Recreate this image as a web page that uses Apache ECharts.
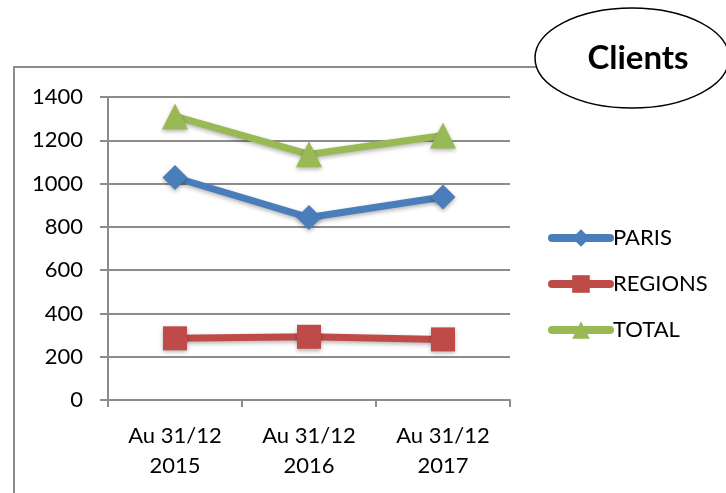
<!DOCTYPE html>
<html><head><meta charset="utf-8">
<script src="https://cdn.jsdelivr.net/npm/echarts@6/dist/echarts.min.js"></script>
<style>html,body{margin:0;padding:0;background:#fff}#c{width:726px;height:493px}</style>
</head><body><div id="c"></div>
<script>
var categories = ['Au 31/12\n2015', 'Au 31/12\n2016', 'Au 31/12\n2017'];
var paris = [1028, 843, 938];
var regions = [285, 292, 280];
var total = [1310, 1135, 1222];
var yTicks = {min: 0, max: 1400, interval: 200};

var FONT = 'Lato';
var chart = echarts.init(document.getElementById('c'));
function ser(name, data, color, symbol, size) {
  return {
    name: name, type: 'line', data: data, symbol: symbol, symbolSize: size,
    lineStyle: {color: color, width: 7, shadowColor: 'rgba(0,0,0,0.3)', shadowBlur: 4, shadowOffsetY: 2},
    itemStyle: {color: color, shadowColor: 'rgba(0,0,0,0.3)', shadowBlur: 4, shadowOffsetY: 2},
    emphasis: {disabled: true}, z: 3
  };
}
chart.setOption({
  animation: false,
  textStyle: {fontFamily: FONT},
  graphic: [
    {type: 'polyline', shape: {points: [[14, 800], [14, 67], [800, 67]]}, style: {stroke: '#8c8c8c', lineWidth: 2, fill: null}, z: 1},
    {type: 'ellipse', shape: {cx: 632, cy: 58, rx: 97, ry: 50}, style: {fill: '#fff', stroke: '#000', lineWidth: 1.5}, z: 10},
    {type: 'text', x: 638, y: 58, style: {text: 'Clients', font: 'bold 33px ' + FONT, fill: '#000', textAlign: 'center', textVerticalAlign: 'middle'}, z: 11}
  ],
  legend: {
    orient: 'vertical', left: 548, top: 227, padding: 0, itemGap: 24, itemWidth: 58, itemHeight: 22,
    lineStyle: {width: 8, cap: 'round'},
    textStyle: {fontSize: 22, color: '#000', fontFamily: FONT, padding: [0, 0, 0, -2]},
    data: ['PARIS', 'REGIONS', 'TOTAL']
  },
  grid: {left: 108, right: 216, top: 97, bottom: 93, containLabel: false},
  xAxis: {
    type: 'category', data: categories, boundaryGap: true,
    axisLine: {lineStyle: {color: '#8c8c8c', width: 2}},
    axisTick: {show: true, length: 7, lineStyle: {color: '#8c8c8c', width: 2}},
    axisLabel: {fontSize: 22, color: '#000', lineHeight: 30, margin: 21, fontFamily: FONT}
  },
  yAxis: {
    type: 'value', min: yTicks.min, max: yTicks.max, interval: yTicks.interval,
    axisLine: {show: true, lineStyle: {color: '#8c8c8c', width: 2}},
    axisTick: {show: true, length: 8, lineStyle: {color: '#8c8c8c', width: 2}},
    splitLine: {lineStyle: {color: '#8c8c8c', width: 2}},
    axisLabel: {fontSize: 22, color: '#000', margin: 25, fontFamily: FONT, formatter: function (v) { return String(v); }}
  },
  series: [
    ser('PARIS', paris, '#4A7EBB', 'diamond', 25),
    ser('REGIONS', regions, '#BE4B48', 'rect', 24),
    ser('TOTAL', total, '#98B954', 'triangle', 26)
  ]
});
</script></body></html>
